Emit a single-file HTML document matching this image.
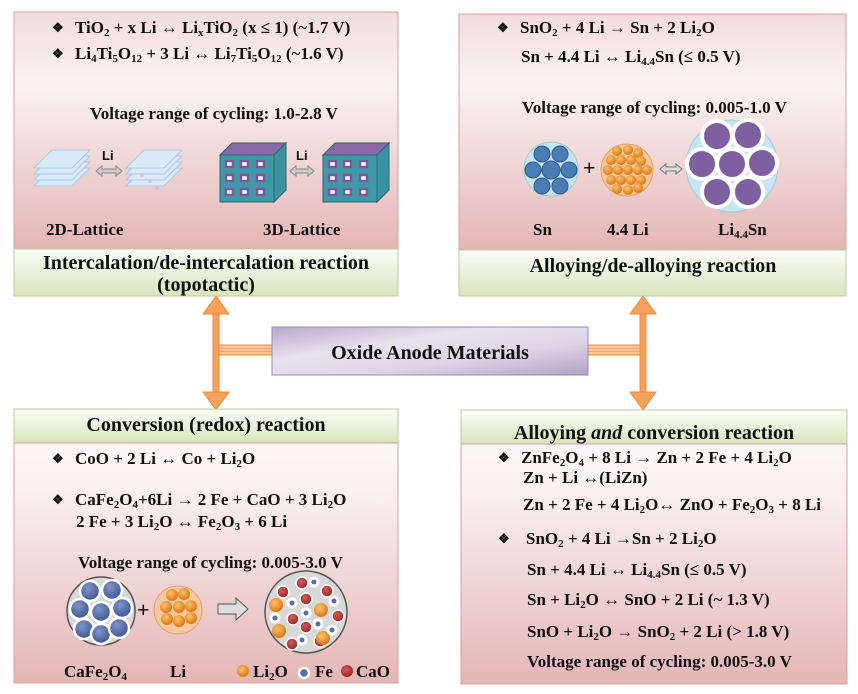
<!DOCTYPE html>
<html><head><meta charset="utf-8"><style>
html,body{margin:0;padding:0;background:#fff}
svg{display:block}
text{font-family:"Liberation Serif",serif;font-weight:bold;font-size:17px;fill:#111}
.s{font-size:11px}
.b{font-size:13px}
.t{font-size:20px}
</style></head><body>
<svg width="858" height="694" viewBox="0 0 858 694" xmlns="http://www.w3.org/2000/svg">
<defs>
<linearGradient id="pk" x1="0" y1="0" x2="0" y2="1"><stop offset="0" stop-color="#f2dcdc"/><stop offset="0.3" stop-color="#fbf3f3"/><stop offset="1" stop-color="#e4b5b5"/></linearGradient>
<linearGradient id="pk2" x1="0" y1="0" x2="0" y2="1"><stop offset="0" stop-color="#fdf8f8"/><stop offset="0.2" stop-color="#faf0f0"/><stop offset="1" stop-color="#e4b5b5"/></linearGradient>
<linearGradient id="gr" x1="0" y1="0" x2="0" y2="1"><stop offset="0" stop-color="#fbfdf7"/><stop offset="1" stop-color="#d7e5bd"/></linearGradient>
<linearGradient id="pu" x1="0" y1="0" x2="1" y2="1"><stop offset="0" stop-color="#b9a6cc"/><stop offset="0.35" stop-color="#e8e2ef"/><stop offset="0.65" stop-color="#ddd4e6"/><stop offset="1" stop-color="#b2a0c6"/></linearGradient>
<radialGradient id="or" cx="0.4" cy="0.35" r="0.7"><stop offset="0" stop-color="#ffc36a"/><stop offset="1" stop-color="#d9700f"/></radialGradient>
<radialGradient id="bl" cx="0.4" cy="0.35" r="0.7"><stop offset="0" stop-color="#7f95c9"/><stop offset="1" stop-color="#3c4f8e"/></radialGradient>
<radialGradient id="rd" cx="0.4" cy="0.35" r="0.7"><stop offset="0" stop-color="#d05a5a"/><stop offset="1" stop-color="#9a2323"/></radialGradient>
</defs>

<!-- Top-left box -->
<rect x="14" y="12" width="384" height="237" fill="url(#pk)" stroke="#d9a0a0"/>
<rect x="14" y="249" width="384" height="47" fill="url(#gr)" stroke="#b9cc99"/>
<text x="52" y="32" class="b">❖</text>
<text x="75" y="33">TiO<tspan class="s" dy="3">2</tspan><tspan dy="-3"> + x Li ↔ Li</tspan><tspan class="s" dy="3">x</tspan><tspan dy="-3">TiO</tspan><tspan class="s" dy="3">2</tspan><tspan dy="-3"> (x ≤ 1) (~1.7 V)</tspan></text>
<text x="52" y="58" class="b">❖</text>
<text x="75" y="59">Li<tspan class="s" dy="3">4</tspan><tspan dy="-3">Ti</tspan><tspan class="s" dy="3">5</tspan><tspan dy="-3">O</tspan><tspan class="s" dy="3">12</tspan><tspan dy="-3">  + 3 Li ↔ Li</tspan><tspan class="s" dy="3">7</tspan><tspan dy="-3">Ti</tspan><tspan class="s" dy="3">5</tspan><tspan dy="-3">O</tspan><tspan class="s" dy="3">12</tspan><tspan dy="-3"> (~1.6 V)</tspan></text>
<text x="90" y="119">Voltage range of cycling: 1.0-2.8 V</text>
<!-- 2D lattices -->
<g fill="#dbeaf8" stroke="#a9c6e6" stroke-width="1">
<polygon points="34,186 72,186 90,168 52,168"/><polygon points="34,180 72,180 90,162 52,162"/><polygon points="34,174 72,174 90,156 52,156"/><polygon points="34,168 72,168 90,150 52,150"/>
<polygon points="126,186 164,186 182,168 144,168"/><polygon points="126,180 164,180 182,162 144,162"/><polygon points="126,174 164,174 182,156 144,156"/><polygon points="126,168 164,168 182,150 144,150"/>
</g>
<circle cx="142" cy="175" r="2" fill="#e0b6e6"/><circle cx="150" cy="181" r="2" fill="#e0b6e6"/><circle cx="157" cy="188" r="2" fill="#e0b6e6"/>
<text x="102" y="160" style="font-family:'Liberation Sans',sans-serif;font-size:13px">Li</text>
<polygon points="96,171 102,166 102,169 116,169 116,166 122,171 116,176 116,173 102,173 102,176" fill="#ccc" stroke="#888"/>
<!-- 3D cubes -->
<g>
<polygon points="220,155 274,155 286,143 232,143" fill="#8a6aa6" stroke="#2d6470"/>
<polygon points="274,155 286,143 286,190 274,202" fill="#3a93a0" stroke="#2d6470"/>
<rect x="220" y="155" width="54" height="47" fill="#3e9aa7" stroke="#2d6470"/>
<g fill="#fff" stroke="#7a5a9a" stroke-width="2.5"><rect x="226" y="161" width="7" height="6"/><rect x="241" y="161" width="7" height="6"/><rect x="257" y="161" width="7" height="6"/><rect x="226" y="175" width="7" height="6"/><rect x="241" y="175" width="7" height="6"/><rect x="257" y="175" width="7" height="6"/><rect x="226" y="189" width="7" height="6"/><rect x="241" y="189" width="7" height="6"/><rect x="257" y="189" width="7" height="6"/></g>
<polygon points="323,155 377,155 389,143 335,143" fill="#8a6aa6" stroke="#2d6470"/>
<polygon points="377,155 389,143 389,190 377,202" fill="#3a93a0" stroke="#2d6470"/>
<rect x="323" y="155" width="54" height="47" fill="#3e9aa7" stroke="#2d6470"/>
<g fill="#fff" stroke="#7a5a9a" stroke-width="2.5"><rect x="329" y="161" width="7" height="6"/><rect x="344" y="161" width="7" height="6"/><rect x="360" y="161" width="7" height="6"/><rect x="329" y="175" width="7" height="6"/><rect x="344" y="175" width="7" height="6"/><rect x="360" y="175" width="7" height="6"/><rect x="329" y="189" width="7" height="6"/><rect x="344" y="189" width="7" height="6"/><rect x="360" y="189" width="7" height="6"/></g>
<text x="296" y="160" style="font-family:'Liberation Sans',sans-serif;font-size:13px">Li</text>
<polygon points="290,171 296,166 296,169 308,169 308,166 314,171 308,176 308,173 296,173 296,176" fill="#ccc" stroke="#888"/>
</g>
<text x="46" y="235">2D-Lattice</text>
<text x="263" y="235">3D-Lattice</text>
<text x="206" y="269" text-anchor="middle" class="t">Intercalation/de-intercalation reaction</text>
<text x="206" y="291" text-anchor="middle" class="t">(topotactic)</text>

<!-- Top-right box -->
<rect x="459" y="14" width="387" height="236" fill="url(#pk)" stroke="#d9a0a0"/>
<rect x="459" y="250" width="387" height="46" fill="url(#gr)" stroke="#b9cc99"/>
<text x="497" y="32" class="b">❖</text>
<text x="520" y="33">SnO<tspan class="s" dy="3">2</tspan><tspan dy="-3"> + 4 Li   → Sn + 2 Li</tspan><tspan class="s" dy="3">2</tspan><tspan dy="-3">O</tspan></text>
<text x="521" y="62">Sn + 4.4 Li  ↔ Li<tspan class="s" dy="3">4.4</tspan><tspan dy="-3">Sn (≤  0.5 V)</tspan></text>
<text x="522" y="113">Voltage range of cycling: 0.005-1.0 V</text>
<circle cx="551" cy="169" r="27" fill="#c5e6f2" stroke="#9cc"/>
<g fill="#4a7db5" stroke="#2d5a8a"><circle cx="551" cy="170" r="9"/><circle cx="542" cy="154" r="8"/><circle cx="560" cy="154" r="8"/><circle cx="533" cy="170" r="8"/><circle cx="569" cy="170" r="8"/><circle cx="542" cy="186" r="8"/><circle cx="560" cy="186" r="8"/></g>
<text x="583" y="175" style="font-size:22px">+</text>
<circle cx="627" cy="170" r="26" fill="#f6c79a" stroke="#e5a060"/>
<g fill="url(#or)">
<circle cx="617" cy="151" r="5"/><circle cx="628" cy="150" r="5"/><circle cx="638" cy="153" r="5"/>
<circle cx="611" cy="160" r="5"/><circle cx="621" cy="160" r="5"/><circle cx="631" cy="160" r="5"/><circle cx="641" cy="161" r="5"/>
<circle cx="608" cy="170" r="5"/><circle cx="618" cy="170" r="5"/><circle cx="628" cy="170" r="5"/><circle cx="638" cy="170" r="5"/><circle cx="647" cy="170" r="5"/>
<circle cx="611" cy="180" r="5"/><circle cx="621" cy="180" r="5"/><circle cx="631" cy="180" r="5"/><circle cx="641" cy="180" r="5"/>
<circle cx="617" cy="189" r="5"/><circle cx="628" cy="190" r="5"/><circle cx="638" cy="188" r="5"/>
</g>
<polygon points="660,169 666,164 666,167 676,167 676,164 682,169 676,174 676,171 666,171 666,174" fill="#ddd" stroke="#777"/>
<circle cx="732" cy="166" r="46" fill="#c5e6f2" stroke="#9cd"/>
<g fill="#7e5f9f" stroke="#fff" stroke-width="4"><circle cx="732" cy="164" r="15"/><circle cx="717" cy="136" r="15"/><circle cx="748" cy="135" r="15"/><circle cx="702" cy="164" r="15"/><circle cx="762" cy="163" r="15"/><circle cx="717" cy="192" r="15"/><circle cx="748" cy="192" r="15"/></g>
<text x="533" y="235">Sn</text>
<text x="607" y="235">4.4 Li</text>
<text x="718" y="235">Li<tspan class="s" dy="3">4.4</tspan><tspan dy="-3">Sn</tspan></text>
<text x="653" y="272" text-anchor="middle" class="t">Alloying/de-alloying reaction</text>

<!-- Connectors -->
<g fill="#f5a05c" stroke="#f08a3a" stroke-width="1">
<rect x="213" y="310" width="6" height="86"/>
<rect x="219" y="345" width="53" height="4" fill="#fbc596"/>
<rect x="219" y="351" width="53" height="4" fill="#fbc596"/>
<polygon points="216,296 203,314 229,314"/>
<polygon points="216,410 203,392 229,392"/>
<rect x="640" y="310" width="6" height="86"/>
<rect x="588" y="345" width="52" height="4" fill="#fbc596"/>
<rect x="588" y="351" width="52" height="4" fill="#fbc596"/>
<polygon points="643,296 630,314 656,314"/>
<polygon points="643,410 630,392 656,392"/>
</g>
<rect x="272" y="327" width="316" height="48" fill="url(#pu)" stroke="#9b89b5"/>
<text x="430" y="359" text-anchor="middle" class="t">Oxide Anode Materials</text>

<!-- Bottom-left box -->
<rect x="14" y="409" width="384" height="34" fill="url(#gr)" stroke="#b9cc99"/>
<rect x="14" y="443" width="384" height="240" fill="url(#pk2)" stroke="#d9a0a0"/>
<text x="206" y="431" text-anchor="middle" class="t">Conversion (redox) reaction</text>
<text x="52" y="463" class="b">❖</text>
<text x="75" y="464">CoO + 2 Li ↔ Co + Li<tspan class="s" dy="3">2</tspan><tspan dy="-3">O</tspan></text>
<text x="52" y="504" class="b">❖</text>
<text x="75" y="505">CaFe<tspan class="s" dy="3">2</tspan><tspan dy="-3">O</tspan><tspan class="s" dy="3">4</tspan><tspan dy="-3">+6Li → 2 Fe + CaO + 3 Li</tspan><tspan class="s" dy="3">2</tspan><tspan dy="-3">O</tspan></text>
<text x="76" y="527">2 Fe + 3 Li<tspan class="s" dy="3">2</tspan><tspan dy="-3">O ↔ Fe</tspan><tspan class="s" dy="3">2</tspan><tspan dy="-3">O</tspan><tspan class="s" dy="3">3</tspan><tspan dy="-3"> + 6 Li</tspan></text>
<text x="78" y="568">Voltage range of cycling: 0.005-3.0 V</text>
<circle cx="101" cy="611" r="34" fill="#d8d8d8" stroke="#555" stroke-width="1.5"/>
<g fill="url(#bl)" stroke="#fff" stroke-width="2.5"><circle cx="101" cy="612" r="10"/><circle cx="90" cy="591" r="10"/><circle cx="112" cy="590" r="10"/><circle cx="80" cy="609" r="10"/><circle cx="122" cy="608" r="10"/><circle cx="84" cy="629" r="10"/><circle cx="101" cy="634" r="10"/><circle cx="119" cy="628" r="10"/></g>
<text x="137" y="617" style="font-size:22px">+</text>
<circle cx="178" cy="610" r="24" fill="#f4c9a0" stroke="#e3a06a"/>
<g fill="url(#or)"><circle cx="172" cy="595" r="6"/><circle cx="184" cy="594" r="6"/><circle cx="166" cy="607" r="6"/><circle cx="179" cy="607" r="6"/><circle cx="191" cy="606" r="6"/><circle cx="167" cy="619" r="6"/><circle cx="179" cy="621" r="6"/><circle cx="191" cy="618" r="6"/></g>
<polygon points="218,604 236,604 236,598 248,609 236,620 236,614 218,614" fill="#ddd" stroke="#555"/>
<circle cx="306" cy="612" r="41" fill="#d8d8d8" stroke="#555" stroke-width="1.5"/>
<g fill="url(#rd)" stroke="#fff" stroke-width="1.5"><circle cx="302" cy="583" r="6"/><circle cx="283" cy="592" r="6"/><circle cx="327" cy="591" r="6"/><circle cx="306" cy="599" r="6"/><circle cx="293" cy="619" r="6"/><circle cx="338" cy="616" r="6"/><circle cx="306" cy="627" r="6"/><circle cx="292" cy="644" r="6"/><circle cx="320" cy="641" r="6"/></g>
<g fill="url(#or)"><circle cx="276" cy="605" r="7"/><circle cx="321" cy="610" r="7"/><circle cx="279" cy="631" r="7"/><circle cx="323" cy="638" r="7"/></g>
<g fill="#5a6aaa" stroke="#fff" stroke-width="3"><circle cx="314" cy="582" r="4"/><circle cx="292" cy="603" r="4"/><circle cx="334" cy="601" r="4"/><circle cx="306" cy="613" r="4"/><circle cx="275" cy="618" r="4"/><circle cx="318" cy="624" r="4"/><circle cx="332" cy="630" r="4"/><circle cx="302" cy="640" r="4"/></g>
<text x="64" y="677">CaFe<tspan class="s" dy="3">2</tspan><tspan dy="-3">O</tspan><tspan class="s" dy="3">4</tspan></text>
<text x="170" y="677">Li</text>
<circle cx="243" cy="671" r="6" fill="url(#or)"/>
<text x="253" y="677">Li<tspan class="s" dy="3">2</tspan><tspan dy="-3">O</tspan></text>
<circle cx="304" cy="673" r="5" fill="#5a6aaa" stroke="#fff" stroke-width="2.5"/>
<text x="315" y="677">Fe</text>
<circle cx="347" cy="671" r="6" fill="url(#rd)"/>
<text x="356" y="677">CaO</text>

<!-- Bottom-right box -->
<rect x="461" y="410" width="386" height="34" fill="url(#gr)" stroke="#b9cc99"/>
<rect x="461" y="444" width="386" height="240" fill="url(#pk2)" stroke="#d9a0a0"/>
<text x="654" y="439" text-anchor="middle" class="t">Alloying <tspan font-style="italic">and</tspan> conversion reaction</text>
<text x="498" y="462" class="b">❖</text>
<text x="521" y="463">ZnFe<tspan class="s" dy="3">2</tspan><tspan dy="-3">O</tspan><tspan class="s" dy="3">4</tspan><tspan dy="-3"> + 8 Li → Zn + 2 Fe + 4 Li</tspan><tspan class="s" dy="3">2</tspan><tspan dy="-3">O</tspan></text>
<text x="523" y="483">Zn + Li  ↔(LiZn)</text>
<text x="523" y="510">Zn + 2 Fe + 4 Li<tspan class="s" dy="3">2</tspan><tspan dy="-3">O↔ ZnO + Fe</tspan><tspan class="s" dy="3">2</tspan><tspan dy="-3">O</tspan><tspan class="s" dy="3">3</tspan><tspan dy="-3"> + 8 Li</tspan></text>
<text x="498" y="543" class="b">❖</text>
<text x="526" y="544">SnO<tspan class="s" dy="3">2</tspan><tspan dy="-3"> + 4 Li →Sn + 2 Li</tspan><tspan class="s" dy="3">2</tspan><tspan dy="-3">O</tspan></text>
<text x="527" y="575">Sn + 4.4 Li ↔ Li<tspan class="s" dy="3">4.4</tspan><tspan dy="-3">Sn (≤  0.5 V)</tspan></text>
<text x="527" y="605">Sn + Li<tspan class="s" dy="3">2</tspan><tspan dy="-3">O ↔ SnO + 2 Li (~ 1.3 V)</tspan></text>
<text x="527" y="637">SnO + Li<tspan class="s" dy="3">2</tspan><tspan dy="-3">O → SnO</tspan><tspan class="s" dy="3">2</tspan><tspan dy="-3"> + 2 Li (&gt; 1.8 V)</tspan></text>
<text x="527" y="667">Voltage range of cycling: 0.005-3.0 V</text>
</svg>
</body></html>
